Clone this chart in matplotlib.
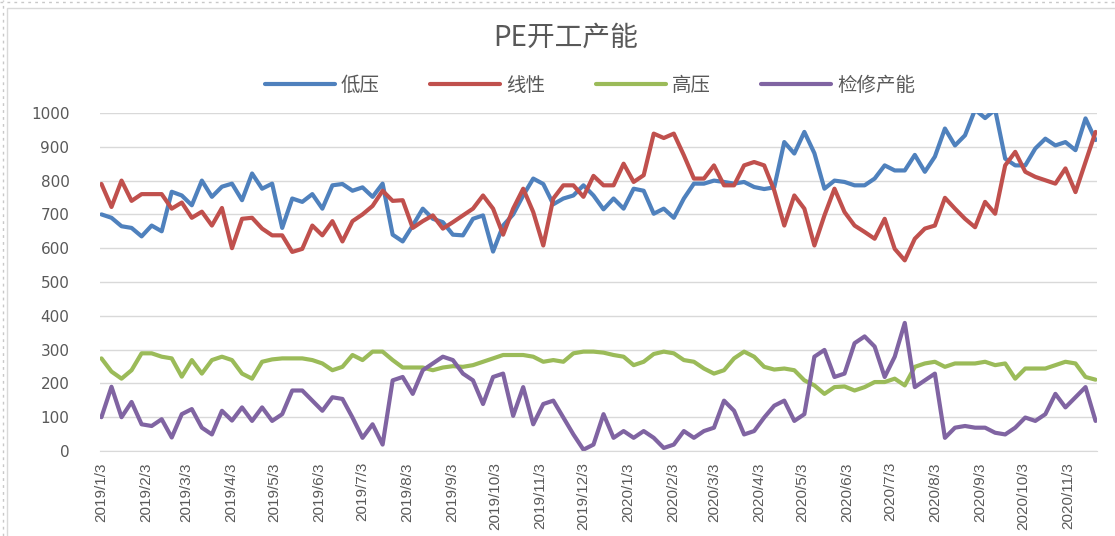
import pandas as pd
import matplotlib
matplotlib.use('Agg')
import matplotlib.pyplot as plt
from matplotlib.patches import Rectangle
from matplotlib.lines import Line2D

plt.rcParams['font.family'] = ['Noto Sans CJK SC', 'DejaVu Sans']

# weekly readings, 2019/1/3 .. 2020/11/22
dates = pd.date_range('2019-01-03', '2020-11-22', periods=100)

low_pressure = [
    700, 690, 665, 660, 635, 667, 650, 767, 756, 727,
    800, 752, 782, 791, 742, 821, 776, 791, 660, 747,
    737, 760, 717, 786, 790, 770, 780, 752, 791, 640,
    620, 667, 717, 687, 677, 640, 638, 687, 697, 590,
    667, 700, 756, 806, 790, 730, 747, 756, 786, 756,
    715, 747, 717, 776, 770, 702, 717, 690, 747, 791,
    791, 800, 796, 791, 796, 781, 775, 780, 914, 880,
    944, 881, 776, 800, 796, 786, 786, 806, 845, 830,
    830, 876, 826, 871, 954, 904, 934, 1010, 985, 1010,
    865, 845, 845, 895, 924, 904, 914, 890, 984, 920,
]
linear = [
    790, 722, 800, 740, 760, 760, 760, 717, 735, 690,
    708, 667, 719, 600, 687, 690, 658, 638, 638, 589,
    598, 667, 638, 680, 620, 680, 700, 725, 770, 740,
    742, 660, 680, 697, 658, 677, 697, 717, 756, 717,
    640, 717, 776, 707, 608, 747, 786, 786, 752, 814,
    786, 786, 850, 796, 816, 939, 926, 939, 875, 806,
    806, 845, 786, 786, 845, 855, 845, 771, 667, 756,
    717, 608, 697, 776, 707, 667, 648, 628, 687, 598,
    564, 628, 658, 667, 749, 717, 687, 662, 737, 702,
    845, 885, 826, 811, 801, 791, 836, 766, 855, 944,
]
high_pressure = [
    274, 235, 214, 239, 289, 289, 279, 274, 220, 269,
    229, 269, 279, 269, 229, 214, 264, 271, 274, 274,
    274, 269, 259, 239, 249, 284, 269, 294, 294, 269,
    247, 247, 247, 239, 247, 251, 249, 254, 264, 274,
    284, 284, 284, 279, 264, 269, 264, 289, 294, 294,
    291, 284, 279, 254, 264, 287, 294, 289, 269, 264,
    244, 229, 239, 274, 294, 279, 249, 241, 244, 239,
    209, 194, 169, 189, 191, 179, 189, 204, 204, 214,
    194, 249, 259, 264, 249, 259, 259, 259, 264, 254,
    259, 214, 244, 244, 244, 254, 264, 259, 219, 211,
]
maintenance = [
    100, 190, 100, 145, 79, 74, 94, 40, 109, 124,
    69, 49, 119, 90, 129, 89, 129, 89, 109, 179,
    179, 149, 119, 159, 154, 99, 39, 79, 19, 209,
    219, 169, 239, 259, 279, 269, 229, 209, 139, 219,
    229, 104, 189, 79, 139, 149, 99, 49, 4, 19,
    109, 39, 59, 39, 59, 39, 9, 19, 59, 39,
    59, 69, 149, 119, 49, 59, 99, 134, 149, 89,
    109, 279, 299, 219, 229, 319, 339, 309, 219, 279,
    379, 189, 209, 229, 39, 69, 74, 69, 69, 54,
    49, 69, 99, 89, 109, 169, 129, 159, 189, 89,
]

series_names = ['低压', '线性', '高压', '检修产能']
series_colors = ['#4F81BD', '#C0504D', '#9BBB59', '#8064A2']

tick_dates = pd.date_range('2019-01-03', '2020-11-03', freq=pd.DateOffset(months=1))
tick_labels = [f'{d.year}/{d.month}/{d.day}' for d in tick_dates]

W, H = 1115, 536
fig = plt.figure(figsize=(W / 100, H / 100), dpi=100)
ax = fig.add_axes([100 / W, 1 - 451 / H, 997 / W, 338 / H])

handles = []
for vals, name, col in zip([low_pressure, linear, high_pressure, maintenance],
                           series_names, series_colors):
    ln, = ax.plot(dates, vals, color=col, lw=3, label=name,
                  solid_joinstyle='round', solid_capstyle='round')
    handles.append(ln)

ax.set_ylim(0, 1000)
ax.set_yticks(range(0, 1001, 100))
ax.set_xlim(pd.Timestamp('2019-01-02'), pd.Timestamp('2020-11-23'))
ax.set_xticks(tick_dates)
ax.set_xticklabels(tick_labels, rotation=90, family=['Liberation Sans', 'DejaVu Sans'],
                   fontsize=11, color='#595959')
for lab in ax.get_yticklabels():
    lab.set_family(['DejaVu Sans'])
    lab.set_fontsize(11)
    lab.set_color('#595959')
ax.tick_params(axis='y', length=0, pad=22)
ax.tick_params(axis='x', length=0, pad=8)

ax.yaxis.grid(True, color='#D9D9D9', lw=1)
ax.set_axisbelow(True)
for s in ['top', 'right', 'left']:
    ax.spines[s].set_visible(False)
ax.spines['bottom'].set_color('#D9D9D9')

fig.text(0.507, 0.929, 'PE开工产能', ha='center', va='center', fontsize=20, color='#595959')
fig.legend(handles, series_names, loc='center', bbox_to_anchor=(0.529, 0.841), ncol=4,
           frameon=False, handlelength=3.6, columnspacing=2.6, handletextpad=0.3,
           fontsize=14, labelcolor='#595959')

# chart border and screenshot frame
fig.patches.append(Rectangle((7 / W, -0.1), 1.2, (H - 8) / H + 0.1, transform=fig.transFigure,
                             fill=False, ec='#D9D9D9', lw=1))
fig.add_artist(Line2D([0, 1], [1 - 2 / H] * 2, ls=(0, (2, 3)), color='#C8C8C8', lw=1,
                      transform=fig.transFigure))
fig.add_artist(Line2D([3 / W] * 2, [0, 1], ls=(0, (2, 3)), color='#C8C8C8', lw=1,
                      transform=fig.transFigure))

fig.savefig('out.png', dpi=100)
